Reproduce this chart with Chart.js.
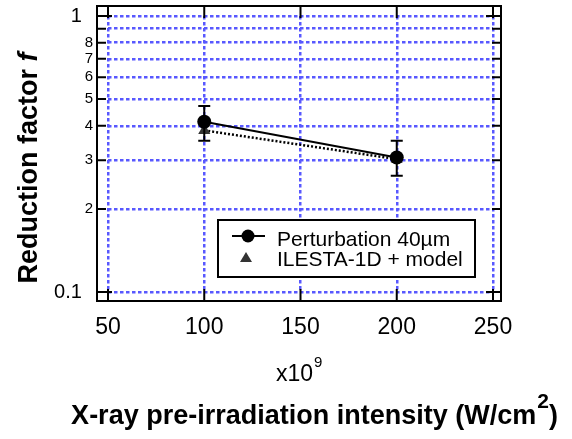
<!DOCTYPE html>
<html>
<head>
<meta charset="utf-8">
<script src="https://cdn.jsdelivr.net/npm/chart.js@4.4.0/dist/chart.umd.min.js"></script>
<style>
  html, body { margin: 0; padding: 0; background: #fff; }
</style>
</head>
<body>
<canvas id="chart" width="572" height="439"></canvas>
<script>
// ===== DATA =====
const intensity      = [100, 200];          // x10^9 W/cm2
const perturbation   = [0.414, 0.307];
const perturbErrLow  = [0.353, 0.264];
const perturbErrHigh = [0.472, 0.353];
const ilesta         = [0.385, 0.303];

const xTicks      = [50, 100, 150, 200, 250];
const yTicks      = [0.1, 0.2, 0.3, 0.4, 0.5, 0.6, 0.7, 0.8, 0.9, 1];
const yTickLabels = ['0.1', '2', '3', '4', '5', '6', '7', '8', '', '1'];
const yMajor      = [0.1, 1];

const FONT = '"Liberation Sans", Arial, Helvetica, sans-serif';
const GRID_BLUE = 'rgb(88, 88, 255)';

// ===== FRAME + INWARD TICKS =====
const framePlugin = {
  id: 'frame',
  afterDraw(chart) {
    const { ctx, chartArea: a, scales: { x, y } } = chart;
    const fl = a.left - 11, fr = a.right + 8, ft = a.top - 10, fb = a.bottom + 9;
    ctx.save();
    ctx.strokeStyle = '#000';
    ctx.lineWidth = 2;
    ctx.strokeRect(fl, ft, fr - fl, fb - ft);
    ctx.beginPath();
    xTicks.forEach(v => {
      const px = x.getPixelForValue(v);
      ctx.moveTo(px, fb); ctx.lineTo(px, fb - 12);
      ctx.moveTo(px, ft); ctx.lineTo(px, ft + 12);
    });
    yTicks.forEach(v => {
      const py = y.getPixelForValue(v);
      const len = yMajor.includes(v) ? 15 : 9;
      ctx.moveTo(fl, py); ctx.lineTo(fl + len, py);
      ctx.moveTo(fr, py); ctx.lineTo(fr - len, py);
    });
    ctx.stroke();
    ctx.restore();
  }
};

// ===== ERROR BARS =====
const errorBarPlugin = {
  id: 'errorBars',
  afterDatasetsDraw(chart) {
    const { ctx, scales: { x, y } } = chart;
    ctx.save();
    ctx.strokeStyle = '#000';
    ctx.lineWidth = 2;
    ctx.beginPath();
    intensity.forEach((v, i) => {
      const px = x.getPixelForValue(v);
      const lo = y.getPixelForValue(perturbErrLow[i]);
      const hi = y.getPixelForValue(perturbErrHigh[i]);
      ctx.moveTo(px, lo); ctx.lineTo(px, hi);
      ctx.moveTo(px - 6, lo); ctx.lineTo(px + 6, lo);
      ctx.moveTo(px - 6, hi); ctx.lineTo(px + 6, hi);
    });
    ctx.stroke();
    ctx.restore();
  }
};

// ===== LEGEND BOX =====
const legendPlugin = {
  id: 'boxLegend',
  afterDraw(chart) {
    const { ctx, chartArea: a } = chart;
    const ds = chart.data.datasets;
    const bx = a.left + 110, by = a.top + 204, bw = 257, bh = 57;
    ctx.save();
    ctx.fillStyle = '#fff';
    ctx.fillRect(bx, by, bw, bh);
    ctx.strokeStyle = '#000';
    ctx.lineWidth = 2;
    ctx.strokeRect(bx, by, bw, bh);

    // row 1: line + circle
    const r1 = by + 16, r2 = by + 37;
    ctx.beginPath();
    ctx.moveTo(bx + 14, r1); ctx.lineTo(bx + 47, r1);
    ctx.stroke();
    ctx.fillStyle = '#000';
    ctx.beginPath();
    ctx.arc(bx + 30, r1, 6.5, 0, Math.PI * 2);
    ctx.fill();

    // row 2: triangle
    ctx.fillStyle = '#333';
    ctx.beginPath();
    ctx.moveTo(bx + 28, r2 - 5);
    ctx.lineTo(bx + 34, r2 + 5);
    ctx.lineTo(bx + 22, r2 + 5);
    ctx.closePath();
    ctx.fill();

    ctx.fillStyle = '#000';
    ctx.font = '21px ' + FONT;
    ctx.textBaseline = 'middle';
    ctx.textAlign = 'left';
    ctx.fillText(ds[0].label, bx + 59, r1 + 4);
    ctx.fillText(ds[1].label, bx + 59, r2 + 3);
    ctx.restore();
  }
};

// ===== AXIS TITLES =====
const titlePlugin = {
  id: 'axisTitles',
  afterDraw(chart) {
    const { ctx } = chart;
    ctx.save();
    ctx.fillStyle = '#000';
    ctx.textBaseline = 'alphabetic';
    ctx.textAlign = 'left';

    // y title: "Reduction factor f" with italic f
    const yMain = 'Reduction factor ';
    const yItal = 'f';
    ctx.font = 'bold 27px ' + FONT;
    const w1 = ctx.measureText(yMain).width;
    ctx.font = 'italic bold 27px ' + FONT;
    const w2 = ctx.measureText(yItal).width;
    ctx.translate(37, 168);
    ctx.rotate(-Math.PI / 2);
    const sx = -(w1 + w2) / 2;
    ctx.font = 'bold 27px ' + FONT;
    ctx.fillText(yMain, sx, 0);
    ctx.font = 'italic bold 27px ' + FONT;
    ctx.fillText(yItal, sx + w1, 0);
    ctx.setTransform(1, 0, 0, 1, 0, 0);

    // multiplier "x10^9"
    ctx.font = '23px ' + FONT;
    ctx.fillText('x10', 276, 381);
    const wx = ctx.measureText('x10').width;
    ctx.font = '15px ' + FONT;
    ctx.fillText('9', 276 + wx + 1, 367);

    // x title with superscript 2
    const xMain = 'X-ray pre-irradiation intensity (W/cm';
    ctx.font = 'bold 27px ' + FONT;
    const xw = ctx.measureText(xMain).width;
    ctx.font = 'bold 21px ' + FONT;
    const sw = ctx.measureText('2').width;
    ctx.font = 'bold 27px ' + FONT;
    const pw = ctx.measureText(')').width;
    const x0 = 314 - (xw + sw + pw) / 2;
    ctx.fillText(xMain, x0, 424);
    ctx.font = 'bold 21px ' + FONT;
    ctx.fillText('2', x0 + xw + 1, 408);
    ctx.font = 'bold 27px ' + FONT;
    ctx.fillText(')', x0 + xw + sw + 1, 424);
    ctx.restore();
  }
};

// ===== CHART =====
const ctx = document.getElementById('chart').getContext('2d');
new Chart(ctx, {
  type: 'line',
  data: {
    datasets: [
      {
        label: 'Perturbation 40µm',
        data: intensity.map((v, i) => ({ x: v, y: perturbation[i] })),
        borderColor: '#000',
        backgroundColor: '#000',
        borderWidth: 2,
        pointStyle: 'circle',
        pointRadius: 7,
        pointBorderWidth: 0,
        tension: 0,
      },
      {
        label: 'ILESTA-1D + model',
        data: intensity.map((v, i) => ({ x: v, y: ilesta[i] })),
        borderColor: '#000',
        backgroundColor: '#333',
        borderWidth: 2.5,
        borderDash: [2, 2],
        pointStyle: 'triangle',
        pointRadius: 7,
        pointBorderWidth: 0,
        tension: 0,
      },
    ]
  },
  options: {
    responsive: false,
    animation: false,
    devicePixelRatio: 1,
    layout: { padding: { left: 0, right: 79, top: 16, bottom: 0 } },
    plugins: { legend: { display: false }, tooltip: { enabled: false } },
    scales: {
      x: {
        type: 'linear',
        min: 50, max: 250,
        afterBuildTicks: s => { s.ticks = xTicks.map(v => ({ value: v })); },
        afterFit: s => { s.height = 147; s.paddingLeft = 0; s.paddingRight = 0; },
        ticks: { color: '#000', font: { family: FONT, size: 23 }, padding: 22, autoSkip: false, maxRotation: 0 },
        grid: { color: GRID_BLUE, lineWidth: 2.5, drawTicks: false },
        border: { display: false, dash: [3.5, 2.5] },
      },
      y: {
        type: 'logarithmic',
        min: 0.1, max: 1,
        afterBuildTicks: s => { s.ticks = yTicks.map(v => ({ value: v })); },
        afterFit: s => { s.width = 108; s.paddingTop = 0; s.paddingBottom = 0; },
        ticks: {
          color: '#000',
          autoSkip: false,
          padding: 15,
          font: c => ({ family: FONT, size: c.tick && yMajor.includes(c.tick.value) ? 20 : 15 }),
          callback: (v, i) => yMajor.includes(v) ? yTickLabels[i] + '  ' : yTickLabels[i],
        },
        grid: { color: GRID_BLUE, lineWidth: 2.5, drawTicks: false },
        border: { display: false, dash: [3.5, 2.5] },
      }
    }
  },
  plugins: [errorBarPlugin, framePlugin, legendPlugin, titlePlugin]
});
</script>
</body>
</html>
